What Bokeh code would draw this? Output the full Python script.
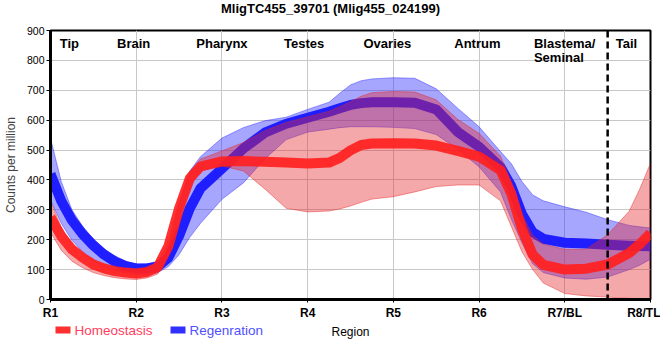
from bokeh.plotting import figure
from bokeh.layouts import column
from bokeh.models import ColumnDataSource, FixedTicker, Span, Label, Range1d
from bokeh.core.properties import value
from bokeh.embed import file_html
from bokeh.resources import INLINE

# ---- data -------------------------------------------------------------
title_text = "MligTC455_39701 (Mlig455_024199)"
x_title = "Region"
y_title = "Counts per million"
region_ticks = ["R1", "R2", "R3", "R4", "R5", "R6", "R7/BL", "R8/TL"]
region_names = ["Tip", "Brain", "Pharynx", "Testes", "Ovaries", "Antrum", "Tail"]
series_names = ["Homeostasis", "Regenration"]

positions = [0, 0.125, 0.25, 0.375, 0.5, 0.625, 0.75, 0.875, 1.0, 1.125, 1.25, 1.375,
             1.5, 1.625, 1.75, 2.0, 2.25, 2.5, 2.75, 3.0, 3.25, 3.375, 3.5, 3.625,
             3.75, 4.0, 4.25, 4.5, 4.75, 5.0, 5.25, 5.375, 5.5, 5.625, 5.75, 6.0,
             6.25, 6.5, 6.75, 6.875, 7.0]

homeo_mean = [275, 212, 168, 140, 117, 104, 95, 90, 87, 92, 108, 178,
              305, 405, 445, 462, 463, 461, 458, 455, 458, 474, 499, 517,
              522, 523, 522, 515, 497, 478, 432, 355, 237, 150, 116, 100,
              103, 117, 155, 185, 222]
homeo_hi = [330, 242, 186, 153, 128, 112, 100, 97, 97, 103, 120, 195,
            325, 425, 470, 497, 525, 565, 592, 611, 630, 645, 662, 680,
            692, 696, 694, 668, 603, 556, 480, 395, 285, 215, 185, 168,
            168, 217, 295, 370, 456]
homeo_lo = [225, 165, 128, 106, 90, 80, 73, 69, 67, 72, 85, 145,
            280, 380, 430, 447, 430, 370, 305, 293, 296, 303, 313, 325,
            336, 344, 360, 378, 383, 383, 330, 245, 160, 100, 55, 20,
            12, 8, 4, 3, 2]

regen_mean = [420, 330, 265, 218, 181, 150, 127, 112, 104, 104, 110, 140,
              213, 305, 372, 438, 505, 558, 588, 608, 628, 640, 651, 657,
              660, 660, 658, 636, 561, 511, 443, 380, 286, 225, 203, 190,
              187, 183, 180, 179, 178]
regen_hi = [540, 395, 300, 245, 202, 170, 146, 129, 118, 119, 128, 165,
            320, 430, 478, 540, 575, 598, 610, 636, 660, 690, 718, 732,
            738, 742, 740, 705, 640, 578, 495, 455, 395, 350, 330, 310,
            292, 267, 248, 243, 239]
regen_lo = [333, 255, 198, 160, 128, 110, 97, 88, 83, 84, 90, 110,
            150, 208, 255, 335, 390, 470, 535, 560, 570, 575, 578, 578,
            578, 576, 572, 552, 503, 444, 360, 270, 190, 120, 90, 72,
            68, 75, 100, 115, 135]

# ---- layout / style constants -----------------------------------------
FONT = "Liberation Sans"
RED, RED_FILL = "#ff2020", "#e6262a"
BLUE, BLUE_FILL = "#1e1eff", "#2b2bff"
name_x = [0.22, 0.97, 2.0, 2.96, 3.93, 4.98, 6.72]


def strip(h):
    """A bare pixel-space figure used for text rows above / below the plot."""
    f = figure(width=660, height=h, x_range=Range1d(50, 650), y_range=Range1d(h, 0),
               output_backend="svg", toolbar_location=None, x_axis_type=None,
               y_axis_type=None, min_border=0, min_border_left=0, min_border_right=0,
               min_border_top=0, min_border_bottom=0)
    f.outline_line_color = None
    f.grid.visible = False
    f.background_fill_color = "white"
    f.border_fill_color = "white"
    return f


# ---- title strip ------------------------------------------------------
t = strip(20)
t.text(x=[330], y=[8], text=[title_text], text_color="black", text_font=value(FONT),
       text_font_size="13px", text_font_style="bold", text_baseline="alphabetic",
       text_align="center")

# ---- main plot ----------------------------------------------------------
src = ColumnDataSource(dict(x=positions, hm=homeo_mean, hh=homeo_hi, hl=homeo_lo,
                            rm=regen_mean, rh=regen_hi, rl=regen_lo))

p = figure(width=660, height=302, x_range=(0, 7), y_range=(0, 900),
           output_backend="svg", toolbar_location=None,
           min_border_left=50, min_border_right=10, min_border_top=10, min_border_bottom=22)
p.background_fill_color = "white"
p.border_fill_color = "white"
p.outline_line_color = "black"
p.outline_line_width = 2

# regeneration band + line
p.varea(x="x", y1="rl", y2="rh", source=src, fill_color=BLUE_FILL, fill_alpha=0.42)
p.line(x="x", y="rh", source=src, line_color=BLUE_FILL, line_alpha=0.45, line_width=1)
p.line(x="x", y="rl", source=src, line_color=BLUE_FILL, line_alpha=0.45, line_width=1)
p.line(x="x", y="rm", source=src, line_color=BLUE, line_width=10, line_join="round")

# homeostasis band + line
p.varea(x="x", y1="hl", y2="hh", source=src, fill_color=RED_FILL, fill_alpha=0.4)
p.line(x="x", y="hh", source=src, line_color=RED_FILL, line_alpha=0.45, line_width=1)
p.line(x="x", y="hl", source=src, line_color=RED_FILL, line_alpha=0.45, line_width=1)

p.add_layout(Span(location=6.5, dimension="height", line_color="black",
                  line_width=2.5, line_dash="7 4"))

p.line(x="x", y="hm", source=src, line_color=RED, line_alpha=0.92,
       line_width=10, line_join="round")

# axes
p.xaxis.ticker = FixedTicker(ticks=list(range(len(region_ticks))))
p.xaxis.major_label_overrides = {i: t_ for i, t_ in enumerate(region_ticks)}
p.xaxis.major_label_text_font = FONT
p.xaxis.major_label_text_font_style = "bold"
p.xaxis.major_label_text_font_size = "12px"
p.xaxis.major_label_text_color = "black"
p.xaxis.major_label_standoff = 3
p.xaxis.major_tick_out = 3
p.xaxis.major_tick_in = 0
p.xaxis.minor_tick_line_color = None
p.xaxis.axis_line_width = 3

p.yaxis.ticker = FixedTicker(ticks=list(range(0, 1000, 100)))
p.yaxis.major_label_text_font = FONT
p.yaxis.major_label_text_font_size = "10.5px"
p.yaxis.major_label_text_color = "black"
p.yaxis.major_label_standoff = 2
p.yaxis.major_tick_out = 4
p.yaxis.major_tick_in = 0
p.yaxis.minor_tick_line_color = None
p.yaxis.axis_line_width = 3
p.yaxis.axis_label = y_title
p.yaxis.axis_label_text_font = FONT
p.yaxis.axis_label_text_font_style = "normal"
p.yaxis.axis_label_text_font_size = "12px"
p.yaxis.axis_label_text_line_height = 0.8
p.yaxis.axis_label_standoff = 6

p.xgrid.ticker = FixedTicker(ticks=list(range(len(region_ticks))))
p.ygrid.ticker = FixedTicker(ticks=list(range(0, 1000, 100)))
p.grid.grid_line_color = "#c8c8c8"
p.grid.grid_line_width = 1

# region names along the top
for nm, nx in zip(region_names, name_x):
    p.add_layout(Label(x=nx, y=256, x_units="data", y_units="screen", text=nm,
                       text_align="center", text_baseline="alphabetic", text_font=FONT,
                       text_font_style="bold", text_font_size="13px", text_color="black"))
for txt, yy in (("Blastema/", 256), ("Seminal", 242)):
    p.add_layout(Label(x=5.64, y=yy, x_units="data", y_units="screen", text=txt,
                       text_align="left", text_baseline="alphabetic", text_font=FONT,
                       text_font_style="bold", text_font_size="13px", text_color="black"))

# ---- legend strip + x-axis title ---------------------------------------
q = strip(38)
q.quad(left=[55, 170], right=[70, 185], top=[4, 4], bottom=[11, 11],
       fill_color=["#ff3030", "#3030ff"], line_color=None)
q.text(x=[74, 189], y=[8, 8], text=series_names, text_color=["#ff4060", "#5050ff"],
       text_font=value(FONT), text_font_size="13.5px", text_baseline="alphabetic",
       text_align="left")
q.text(x=[350], y=[9.5], text=[x_title], text_color="black", text_font=value(FONT),
       text_font_size="12px", text_baseline="alphabetic", text_align="center")

layout = column(t, p, q, spacing=0)
open("out.html", "w").write(file_html(layout, INLINE))
